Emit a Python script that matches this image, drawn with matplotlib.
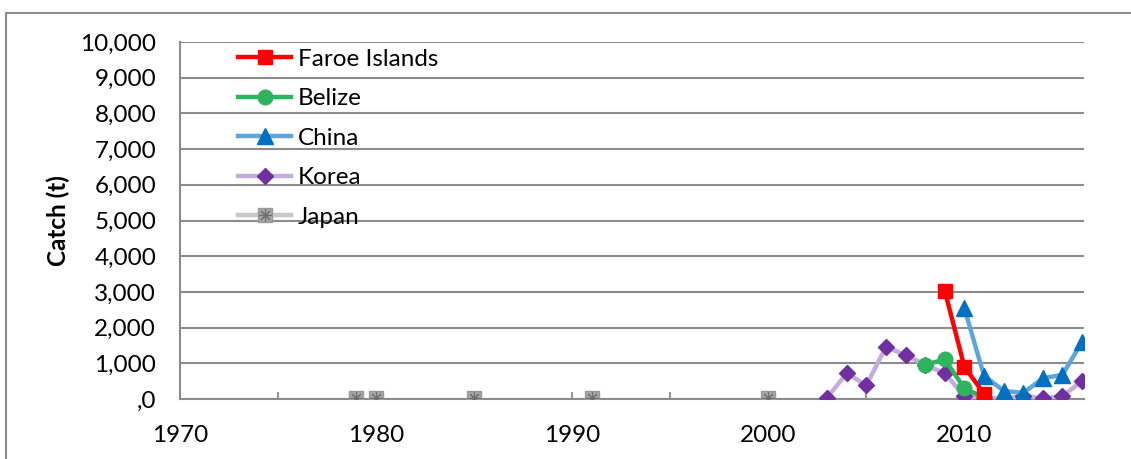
import matplotlib.pyplot as plt
from matplotlib.patches import Rectangle
from matplotlib.lines import Line2D
from matplotlib.legend_handler import HandlerTuple

plt.rcParams['font.family'] = ['Lato', 'DejaVu Sans']

faroe_years = [2009, 2010, 2011]
faroe_catch = [3030, 900, 150]

belize_years = [2008, 2009, 2010, 2011]
belize_catch = [960, 1110, 300, 40]

china_years = [2010, 2011, 2012, 2013, 2014, 2015, 2016]
china_catch = [2540, 650, 230, 170, 580, 680, 1600]

korea_years = [2003, 2004, 2005, 2006, 2007, 2008, 2009, 2010, 2011, 2012, 2013, 2014, 2015, 2016]
korea_catch = [40, 720, 380, 1460, 1230, 960, 720, 80, 40, 10, 90, 20, 80, 500]

japan_years = [1979, 1980, 1985, 1991, 2000]
japan_catch = [15, 15, 15, 15, 15]

y_ticks = [0, 1000, 2000, 3000, 4000, 5000, 6000, 7000, 8000, 9000, 10000]
y_labels = [',0', '1,000', '2,000', '3,000', '4,000', '5,000', '6,000', '7,000', '8,000', '9,000', '10,000']
x_ticks = [1970, 1980, 1990, 2000, 2010]

fs = 17.5
fig = plt.figure(figsize=(11.31, 4.59), dpi=100)
ax = fig.add_axes([0.159, 0.1307, 0.7995, 0.7778])

grid_col = '#8c8c8c'

# japan: separate years, no joining line in the original
jm, = ax.plot(japan_years, japan_catch, ls='none', marker='s', ms=10,
              mfc='#a6a6a6', mec='#999999', zorder=3)
jx, = ax.plot(japan_years, japan_catch, ls='none', marker=(8, 2, 0), ms=9,
              mec='#6e6e6e', mew=0.8, zorder=4)
ko, = ax.plot(korea_years, korea_catch, color='#c3aedb', lw=3.2, marker='D', ms=8.5,
              mfc='#7030a0', mec='#7030a0', zorder=5)
ch, = ax.plot(china_years, china_catch, color='#5ea5db', lw=3.2, marker='^', ms=11,
              mfc='#0070c0', mec='#0070c0', zorder=6)
be, = ax.plot(belize_years, belize_catch, color='#2eb35f', lw=3.2, marker='o', ms=10.5,
              mfc='#2eb35f', mec='#2eb35f', zorder=7)
fa, = ax.plot(faroe_years, faroe_catch, color='#ff0000', lw=3.2, marker='s', ms=10.5,
              mfc='#ff0000', mec='#ff0000', zorder=8)

ax.set_xlim(1970, 2016.1)
ax.set_ylim(0, 10000)
ax.set_yticks(y_ticks)
ax.set_yticklabels(y_labels, fontsize=fs)
ax.set_xticks(x_ticks)
ax.set_xticklabels([str(x) for x in x_ticks], fontsize=fs)
ax.set_xticks(range(1975, 2016, 10), minor=True)
ax.tick_params(axis='y', length=0, pad=17)
ax.tick_params(axis='x', which='both', direction='in', length=5, color=grid_col, width=1.3, pad=19)

ax.grid(axis='y', color=grid_col, lw=1.5)
ax.set_axisbelow(True)
for s in ['top', 'right']:
    ax.spines[s].set_visible(False)
for s in ['left', 'bottom']:
    ax.spines[s].set_color(grid_col)
    ax.spines[s].set_linewidth(1.5)

ax.set_ylabel('Catch (t)', fontsize=fs, fontweight='bold', labelpad=7)

jline = Line2D([], [], color='#c8c8c8', lw=3.2)
leg = ax.legend([fa, be, ch, ko, (jline, jm, jx)], ['Faroe Islands', 'Belize', 'China', 'Korea', 'Japan'],
                handler_map={tuple: HandlerTuple(ndivide=1, pad=0)},
                loc='upper left', bbox_to_anchor=(0.054, 1.008), frameon=False,
                fontsize=fs, handlelength=2.15, handletextpad=0.3, labelspacing=0.76,
                borderaxespad=0)

fig.patches.append(Rectangle((6 / 1131, -0.02), 1.1, 1 - 13 / 459 + 0.02, transform=fig.transFigure,
                             fill=False, edgecolor=grid_col, lw=1.5))

fig.savefig('out.png', dpi=100)
